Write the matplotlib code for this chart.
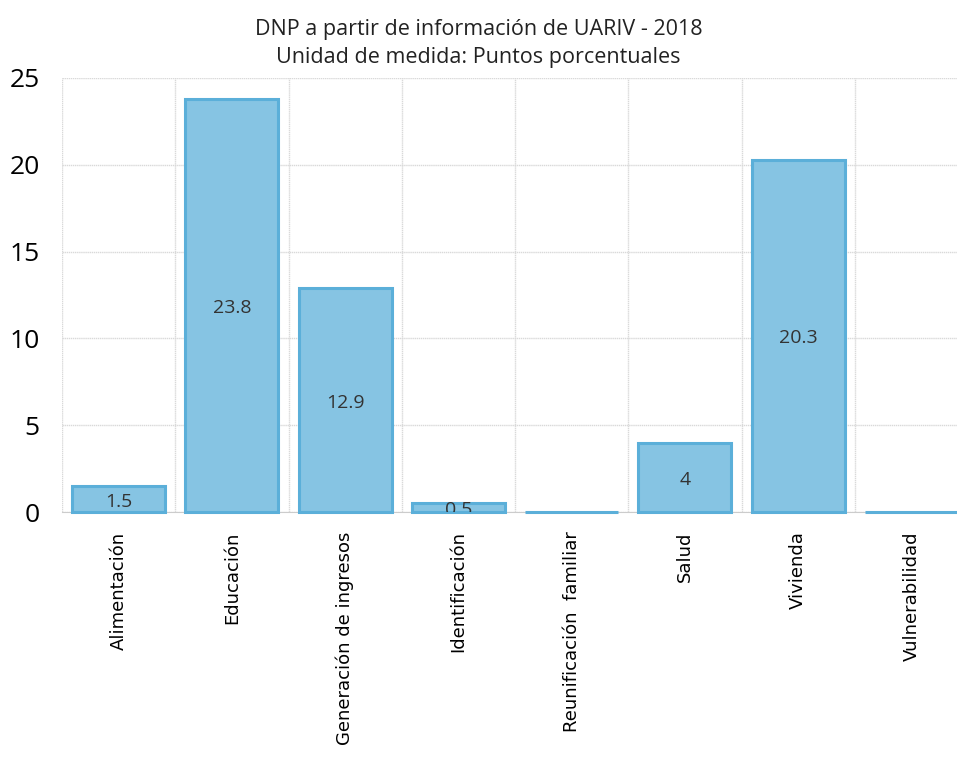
import numpy as np
import matplotlib
matplotlib.use("Agg")
import matplotlib.pyplot as plt

categorias = ["Alimentación", "Educación", "Generación de ingresos", "Identificación",
              "Reunificación  familiar", "Salud", "Vivienda", "Vulnerabilidad"]
valores = [1.5, 23.8, 12.9, 0.5, 0, 4, 20.3, 0]
etiquetas = ["1.5", "23.8", "12.9", "0.5", "", "4", "20.3", ""]
y_ticks = [0, 5, 10, 15, 20, 25]

plt.rcParams['font.family'] = ['Open Sans', 'DejaVu Sans']

fig = plt.figure(figsize=(9.57, 7.6), dpi=100)
ax = fig.add_axes([0.0648, 0.3263, 0.9467, 0.5711])

x = np.arange(len(categorias))
bars = ax.bar(x, valores, width=0.82, color="#86C4E3", edgecolor="#5BAFD9",
              linewidth=2.2, zorder=3, clip_on=False)

for b, v, t in zip(bars, valores, etiquetas):
    if t:
        ax.text(b.get_x() + b.get_width() / 2, v / 2 - 0.15, t, ha="center", va="center",
                fontsize=14, color="#333333", zorder=4, clip_on=True)

ax.set_xlim(-0.5, len(categorias) - 0.5)
ax.set_ylim(0, 25)
ax.set_yticks(y_ticks)
ax.set_xticks(x)
ax.set_xticklabels(categorias, rotation=90, fontsize=13, family="DejaVu Sans")
ax.tick_params(axis="y", labelsize=19, length=0, pad=16)
ax.tick_params(axis="x", length=0, pad=14)

# grid lines: horizontal every 5, vertical at category boundaries
ax.yaxis.grid(True, color="#D9D9D9", linewidth=1, linestyle=(0, (1, 0.5)), zorder=0)
for bx in np.arange(-0.5, len(categorias), 1.0):
    ax.axvline(bx, color="#D9D9D9", linewidth=1, linestyle=(0, (1, 0.5)), zorder=0)
for s in ["top", "right", "left"]:
    ax.spines[s].set_visible(False)
ax.spines["bottom"].set_color("#CCCCCC")
ax.spines["bottom"].set_zorder(1)

fig.text(0.5, 0.961, "DNP a partir de información de UARIV - 2018", ha="center",
         va="center", fontsize=15.5, color="#222222")
fig.text(0.5, 0.925, "Unidad de medida: Puntos porcentuales", ha="center",
         va="center", fontsize=15.5, color="#222222")

fig.savefig("out.png", dpi=100)
